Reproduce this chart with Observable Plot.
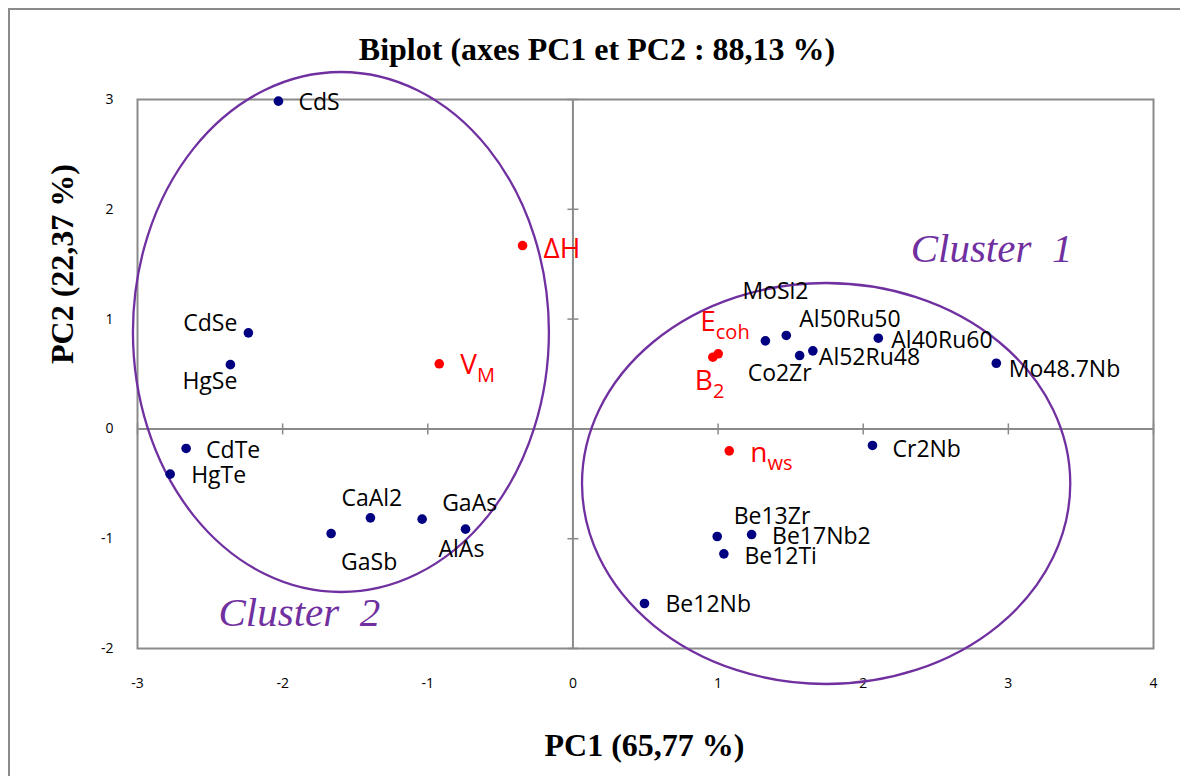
<!DOCTYPE html>
<html>
<head>
<meta charset="utf-8">
<script src="https://cdn.jsdelivr.net/npm/d3@7"></script>
<script src="https://cdn.jsdelivr.net/npm/@observablehq/plot@0.6"></script>
<style>
  body { margin: 0; background: #fff; }
  #wrap { position: relative; width: 1180px; height: 776px; overflow: hidden; background: #fff; }
  #border { position: absolute; left: 8px; top: 8px; width: 2000px; height: 2000px;
            border-left: 2px solid #8a8a8a; border-top: 2px solid #8a8a8a; pointer-events: none; }
  #title { position: relative; height: 64px; box-sizing: border-box; padding-top: 33px; width: 1194px;
           text-align: center; white-space: nowrap;
           font-family: "Liberation Serif", "Times New Roman", serif; font-weight: bold; font-size: 32px; line-height: 32px; color: #000; }
  #chart svg { display: block; }
</style>
</head>
<body>
<div id="wrap">
  <div id="border"></div>
  <div id="title">Biplot (axes PC1 et PC2 : 88,13 %)</div>
  <div id="chart"></div>
</div>
<script>
// ---------- data ----------
const titleText = "Biplot (axes PC1 et PC2 : 88,13 %)";
const xTitle = "PC1 (65,77 %)";
const yTitle = "PC2 (22,37 %)";

const xTicks = [-3, -2, -1, 0, 1, 2, 3, 4];
const yTicks = [-2, -1, 0, 1, 2, 3];

// observations (compounds)
const samples  = ["CdS", "CdSe", "HgSe", "CdTe", "HgTe", "CaAl2", "GaSb", "GaAs", "AlAs",
                  "MoSi2", "Al50Ru50", "Co2Zr", "Al52Ru48", "Al40Ru60", "Mo48.7Nb", "Cr2Nb",
                  "Be13Zr", "Be17Nb2", "Be12Ti", "Be12Nb"];
const samplePC1 = [-2.029, -2.236, -2.360, -2.665, -2.775, -1.395, -1.666, -1.039, -0.740,
                   1.326, 1.470, 1.562, 1.653, 2.104, 2.917, 2.064,
                   0.994, 1.231, 1.040, 0.493];
const samplePC2 = [2.985, 0.875, 0.585, -0.178, -0.412, -0.810, -0.953, -0.822, -0.913,
                   0.802, 0.851, 0.668, 0.711, 0.826, 0.598, -0.151,
                   -0.980, -0.962, -1.138, -1.590];

// variables (main symbol + subscript)
const variableMain = ["ΔH", "V", "E", "B", "n"];
const variableSub  = ["", "M", "coh", "2", "ws"];
const variablePC1  = [-0.347, -0.921, 1.001, 0.964, 1.077];
const variablePC2  = [1.670, 0.593, 0.684, 0.653, -0.200];

// cluster ellipses (centre and semi-axes, in PC units) and their captions
const clusterNames = ["Cluster  1", "Cluster  2"];
const clusterCx = [1.748, -1.595];
const clusterCy = [-0.502, 0.878];
const clusterRx = [1.682, 1.433];
const clusterRy = [1.826, 2.368];
const clusterLabelPC1 = [2.327, -2.442];
const clusterLabelPC2 = [1.643, -1.672];

// ---------- label layout (pixel offsets, anchor) ----------
const sampleLabelLayout = [
  [20, 1.5, "start"], [-11, -9, "end"], [7, 16.5, "end"], [20, 2, "start"], [21, 1, "start"],
  [-29, -19.5, "start"], [10, 29, "start"], [20, -16, "start"], [-27, 20, "start"],
  [-23, -49, "start"], [13, -16, "start"], [-52, 18.5, "start"], [6, 7, "start"],
  [13, 2.5, "start"], [12.5, 6, "start"], [20, 4, "start"],
  [16.5, -20, "start"], [20.5, 2, "start"], [20.5, 3, "start"], [21, 1, "start"]
];
const variableLabelLayout = [[21, 3], [21, 1], [-18, -32], [-18, 23.5], [21, 2.5]];

// ---------- tables ----------
const sampleData = samples.map((name, i) => ({name, pc1: samplePC1[i], pc2: samplePC2[i]}));
const variableData = variableMain.map((m, i) => ({main: m, sub: variableSub[i], pc1: variablePC1[i], pc2: variablePC2[i]}));
const clusters = clusterNames.map((name, i) => ({name, cx: clusterCx[i], cy: clusterCy[i], rx: clusterRx[i], ry: clusterRy[i],
                                                  lx: clusterLabelPC1[i], ly: clusterLabelPC2[i]}));

const gray = "#8a8a8a";
const navy = "#000080";
const red = "#ff0000";
const purple = "#7030A0";
const sans = "'Open Sans', 'Liberation Sans', sans-serif";
const serif = "'Liberation Serif', 'Times New Roman', serif";

const tickV = {draw(ctx) { ctx.moveTo(0, -5.5); ctx.lineTo(0, 5.5); }};
const tickH = {draw(ctx) { ctx.moveTo(-5.5, 0); ctx.lineTo(5.5, 0); }};

// ellipse mark drawn through Plot's scales
function ellipseMark(index, scales) {
  const g = d3.create("svg:g").attr("fill", "none").attr("stroke", purple).attr("stroke-width", 2.3);
  for (const c of clusters) {
    const cx = scales.x(c.cx), cy = scales.y(c.cy);
    g.append("ellipse")
      .attr("cx", cx).attr("cy", cy)
      .attr("rx", Math.abs(scales.x(c.cx + c.rx) - cx))
      .attr("ry", Math.abs(scales.y(c.cy + c.ry) - cy));
  }
  return g.node();
}

const sampleLabelMarks = sampleData.map((d, i) => Plot.text([d], {
  x: "pc1", y: "pc2", text: "name",
  dx: sampleLabelLayout[i][0], dy: sampleLabelLayout[i][1], textAnchor: sampleLabelLayout[i][2],
  lineAnchor: "middle", fontSize: 23, fontFamily: sans, fill: "#000"
}));
const variableLabelMarks = variableData.map((d, i) => Plot.text([d], {
  x: "pc1", y: "pc2", text: "main",
  dx: variableLabelLayout[i][0], dy: variableLabelLayout[i][1], textAnchor: "start",
  lineAnchor: "middle", fontSize: 28, fontFamily: sans, fill: red
}));

const chart = Plot.plot({
  width: 1180,
  height: 712,
  marginTop: 35,
  marginBottom: 128,
  marginLeft: 137,
  marginRight: 27,
  style: {background: "transparent", overflow: "visible"},
  x: {domain: [-3, 4]},
  y: {domain: [-2, 3]},
  marks: [
    Plot.frame({stroke: gray, strokeWidth: 2}),
    Plot.ruleY([0], {stroke: gray, strokeWidth: 2}),
    Plot.ruleX([0], {stroke: gray, strokeWidth: 2}),
    Plot.dot(xTicks, {x: d => d, y: d => 0, symbol: tickV, r: 5, stroke: gray, strokeWidth: 1.5}),
    Plot.dot(yTicks, {x: d => 0, y: d => d, symbol: tickH, r: 5, stroke: gray, strokeWidth: 1.5}),
    Plot.axisX({ticks: xTicks, tickSize: 0, tickPadding: 30, fontSize: 14, fontFamily: sans, label: null, tickFormat: d => String(d)}),
    Plot.axisY({ticks: yTicks, tickSize: 0, tickPadding: 24, fontSize: 14, fontFamily: sans, label: null, tickFormat: d => String(d)}),
    ellipseMark,
    Plot.dot(sampleData, {x: "pc1", y: "pc2", r: 4.8, fill: navy}),
    Plot.dot(variableData, {x: "pc1", y: "pc2", r: 4.8, fill: red}),
    ...sampleLabelMarks,
    ...variableLabelMarks,
    Plot.text(clusters, {x: "lx", y: "ly", text: "name", textAnchor: "start", lineAnchor: "middle",
      fontSize: 41, fontStyle: "italic", fontFamily: serif, fill: purple}),
    Plot.text([xTitle], {text: d => d, frameAnchor: "bottom", dx: -1, dy: 97, lineAnchor: "middle",
      fontSize: 32, fontWeight: "bold", fontFamily: serif, fill: "#000"}),
    Plot.text([yTitle], {text: d => d, frameAnchor: "left", rotate: -90, dx: -75, dy: -10, lineAnchor: "middle",
      fontSize: 32, fontWeight: "bold", fontFamily: serif, fill: "#000"})
  ]
});

// subscripts for the variable labels (red texts only)
const subByMain = new Map(variableData.map(d => [d.main, d.sub]));
chart.querySelectorAll("text").forEach(t => {
  let el = t, fill = null;
  while (el && el !== chart) {
    const f = el.getAttribute && el.getAttribute("fill");
    if (f) { fill = f.toLowerCase(); break; }
    el = el.parentNode;
  }
  if (fill !== red && fill !== "red" && fill !== "rgb(255, 0, 0)") return;
  const sub = subByMain.get(t.textContent);
  if (sub) {
    const ts = document.createElementNS("http://www.w3.org/2000/svg", "tspan");
    ts.setAttribute("dy", "8");
    ts.setAttribute("font-size", "20");
    ts.textContent = sub;
    t.appendChild(ts);
  }
});

document.getElementById("title").textContent = titleText;
document.getElementById("chart").appendChild(chart);
</script>
</body>
</html>
